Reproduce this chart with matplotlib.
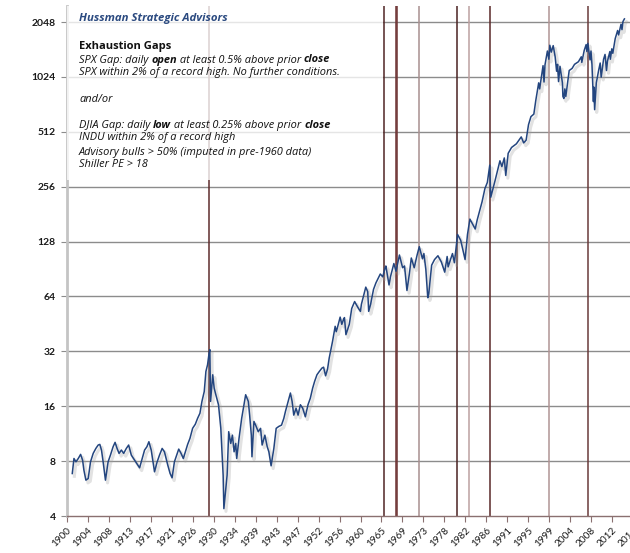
import numpy as np
import matplotlib
matplotlib.use("Agg")
import matplotlib.pyplot as plt
import matplotlib.patheffects as pe
from matplotlib.patches import Rectangle

# S&P 500 (log scale): decimal year, index level
years = [
    1901.3, 1901.65, 1902.06, 1902.54, 1903.02, 1903.43, 1903.70, 1904.11, 1904.59, 1905.07,
    1905.62, 1906.17, 1906.65, 1906.99, 1907.33, 1907.67, 1908.15, 1908.70, 1909.18, 1909.73,
    1910.14, 1910.55, 1910.96, 1911.44, 1911.91, 1912.46, 1912.94, 1913.49, 1914.17, 1915.20,
    1915.75, 1916.23, 1916.71, 1917.12, 1917.60, 1918.28, 1918.83, 1919.31, 1919.86, 1920.33,
    1921.02, 1921.50, 1921.91, 1922.39, 1922.87, 1923.28, 1923.76, 1924.23, 1924.65, 1925.12,
    1925.60, 1926.15, 1926.70, 1927.18, 1927.66, 1928.07, 1928.55, 1928.89, 1929.23, 1929.55,
    1929.70, 1929.85, 1930.30, 1930.60, 1930.94, 1931.49, 1931.97, 1932.17, 1932.45, 1932.60,
    1932.99, 1933.27, 1933.60, 1934.02, 1934.37, 1934.71, 1935.05, 1935.25, 1935.73, 1936.28,
    1936.76, 1937.10, 1937.65, 1937.92, 1938.27, 1938.40, 1938.81, 1939.16, 1939.70, 1940.18,
    1940.50, 1941.07, 1941.55, 1941.89, 1942.35, 1942.92, 1943.40, 1943.95, 1944.50, 1944.97,
    1945.32, 1945.86, 1946.34, 1946.69, 1947.03, 1947.51, 1947.92, 1948.40, 1948.88, 1949.42,
    1949.97, 1950.45, 1950.93, 1951.34, 1951.82, 1952.30, 1952.85, 1953.19, 1953.60, 1954.00,
    1954.35, 1954.76, 1955.04, 1955.58, 1955.80, 1956.13, 1956.61, 1956.95, 1957.30, 1957.50,
    1957.80, 1958.00, 1958.50, 1959.00, 1959.60, 1959.90, 1960.40, 1960.80, 1961.00, 1961.90,
    1962.30, 1962.50, 1962.90, 1963.50, 1964.00, 1964.90, 1965.40, 1965.90, 1966.05, 1966.70,
    1967.00, 1967.70, 1968.15, 1968.85, 1969.50, 1969.90, 1970.40, 1970.90, 1971.30, 1971.90,
    1972.50, 1972.95, 1973.60, 1973.90, 1974.30, 1974.70, 1974.90, 1975.50, 1976.10, 1976.80,
    1977.50, 1978.20, 1978.70, 1978.90, 1979.80, 1980.20, 1980.85, 1981.50, 1982.40, 1982.90,
    1983.40, 1984.50, 1984.90, 1985.90, 1986.50, 1987.00, 1987.50, 1987.70, 1988.50, 1989.60,
    1990.00, 1990.50, 1990.80, 1991.30, 1992.00, 1993.00, 1994.00, 1994.50, 1995.00, 1995.50,
    1996.00, 1996.60, 1997.00, 1997.60, 1997.80, 1998.50, 1998.70, 1998.90, 1999.40, 1999.70,
    1999.90, 2000.20, 2000.60, 2001.00, 2001.30, 2001.50, 2001.70, 2002.00, 2002.50, 2002.60,
    2002.80, 2003.00, 2003.20, 2003.90, 2004.50, 2005.00, 2005.80, 2006.40, 2006.50, 2007.00,
    2007.40, 2007.55, 2007.75, 2008.20, 2008.40, 2008.60, 2008.90, 2009.00, 2009.15, 2009.50,
    2010.00, 2010.30, 2010.50, 2011.00, 2011.30, 2011.60, 2011.80, 2012.30, 2012.40, 2012.70,
    2012.90, 2013.40, 2013.90, 2014.10, 2014.60, 2014.80, 2015.00, 2015.30,
]
sp500 = [
    6.84, 8.27, 7.93, 8.27, 8.71, 8.10, 7.14, 6.29, 6.42, 7.93,
    8.82, 9.39, 9.80, 9.88, 9.20, 7.93, 6.29, 7.93, 8.63, 9.59,
    10.14, 9.39, 8.82, 9.20, 8.82, 9.39, 9.80, 8.63, 8.10, 7.35,
    8.27, 9.20, 9.59, 10.22, 9.20, 6.99, 7.93, 8.63, 9.39, 9.00,
    7.60, 6.84, 6.48, 7.93, 8.63, 9.31, 8.82, 8.27, 9.00, 9.88,
    10.66, 12.11, 12.74, 13.74, 14.64, 16.98, 19.27, 24.8, 27.0, 31.3,
    32.7, 17.0, 23.8, 20.1, 18.5, 16.3, 12.1, 9.39, 6.70, 4.39,
    5.66, 6.70, 11.6, 10.0, 11.1, 9.00, 10.0, 8.27, 10.66, 13.74,
    16.3, 18.5, 17.0, 14.3, 11.1, 8.45, 13.2, 12.6, 11.6, 12.1,
    9.80, 11.1, 9.59, 9.00, 7.54, 9.39, 12.1, 12.4, 12.6, 13.7,
    15.0, 17.0, 18.9, 17.0, 14.3, 15.6, 14.3, 16.3, 15.6, 14.0,
    16.3, 17.7, 20.1, 21.9, 23.8, 24.8, 25.9, 26.2, 23.5, 25.5,
    29.4, 33.4, 36.3, 43.9, 41.0, 44.0, 49.3, 45.0, 47.8, 49.0,
    39.5, 41.0, 45.0, 55.0, 60.0, 58.0, 55.0, 53.0, 58.0, 72.0,
    68.0, 53.0, 58.0, 70.0, 76.0, 85.0, 82.0, 92.0, 94.0, 74.0,
    82.0, 97.0, 88.0, 108.0, 92.0, 94.0, 69.0, 85.0, 104.0, 92.0,
    108.0, 120.0, 103.0, 110.0, 90.0, 63.0, 66.0, 95.0, 102.0, 107.0,
    99.0, 87.0, 106.0, 93.0, 110.0, 98.0, 140.0, 130.0, 102.0, 140.0,
    170.0, 150.0, 168.0, 211.0, 250.0, 270.0, 336.0, 224.0, 270.0, 355.0,
    330.0, 368.0, 295.0, 390.0, 420.0, 440.0, 480.0, 445.0, 460.0, 560.0,
    620.0, 640.0, 760.0, 950.0, 880.0, 1180.0, 960.0, 1190.0, 1420.0, 1280.0,
    1527.0, 1400.0, 1520.0, 1320.0, 1100.0, 1200.0, 965.0, 1170.0, 950.0, 800.0,
    780.0, 880.0, 800.0, 1110.0, 1140.0, 1200.0, 1240.0, 1320.0, 1230.0, 1430.0,
    1540.0, 1410.0, 1565.0, 1270.0, 1420.0, 1200.0, 750.0, 900.0, 677.0, 950.0,
    1120.0, 1220.0, 1020.0, 1280.0, 1360.0, 1110.0, 1250.0, 1410.0, 1280.0, 1460.0,
    1380.0, 1660.0, 1840.0, 1740.0, 1990.0, 1860.0, 2060.0, 2130.0,
]

# exhaustion gap signal dates and line shades
signal_years = [1929.6, 1965.65, 1968.15, 1968.32, 1972.9, 1980.8, 1983.3, 1987.55, 1999.8, 2007.7]
signal_colors = ['#5e2c2c', '#4f2424', '#6e3434', '#6e3434', '#a89090', '#4a2222',
                 '#bca0a0', '#5a2828', '#b09494', '#6a3a3a']

y_ticks = [4, 8, 16, 32, 64, 128, 256, 512, 1024, 2048]
x_labels = ['1900', '1904', '1908', '1913', '1917', '1921', '1926', '1930', '1934', '1939',
            '1943', '1947', '1952', '1956', '1960', '1965', '1969', '1973', '1978', '1982',
            '1986', '1991', '1995', '1999', '2004', '2008', '2012', '2016']

W, H = 630, 553
fig = plt.figure(figsize=(W / 100, H / 100), dpi=100)
x0, x1 = 1900.15, 2016.5
ax = fig.add_axes([66.7 / W, 37 / H, (x1 - x0) * 4.87 / W, 510 / H])
ax.set_yscale('log', base=2)
ax.set_ylim(4, 2507)
ax.set_xlim(x0, x1)

for yv in y_ticks[1:]:
    ax.axhline(yv, color='#8c8c8c', lw=1.0, zorder=1)

for xv, c in zip(signal_years, signal_colors):
    ax.axvline(xv, color=c, lw=1.1, zorder=2)

# faded panel behind the notes
ax.add_patch(Rectangle((0, (553 - 180 - 37) / 510), (383 - 66.7) / ((x1 - x0) * 4.87),
                       1.0, transform=ax.transAxes, facecolor='white', alpha=0.78,
                       edgecolor='none', zorder=3))

ax.plot(years, sp500, color='#23457f', lw=1.1, zorder=4,
        path_effects=[pe.SimpleLineShadow(offset=(1.5, -2), shadow_color='#a0a0a0', alpha=0.3, rho=1, linewidth=2.2),
                      pe.Normal()])

ax.set_yticks(y_ticks)
ax.set_yticklabels([str(v) for v in y_ticks], fontfamily='Lato', fontweight='bold', fontsize=7.5, color='#1a1a1a')
ax.yaxis.set_minor_locator(matplotlib.ticker.NullLocator())
ax.tick_params(axis='y', length=4, width=0.8, color='#8c8c8c', pad=4)

tick_pos = [x0 + 4.333 * k for k in range(len(x_labels))]
ax.set_xticks(tick_pos)
ax.set_xticklabels(x_labels, rotation=45, ha='right', rotation_mode='anchor',
                   fontfamily='Lato', fontsize=7.2, color='#1a1a1a')
ax.tick_params(axis='x', length=4, width=0.8, color='#8a7070', pad=3)

for s in ['top', 'right']:
    ax.spines[s].set_visible(False)
ax.spines['left'].set_color('#c4c4c4')
ax.spines['left'].set_linewidth(2)
ax.spines['bottom'].set_color('#8a7070')
ax.spines['bottom'].set_linewidth(1)


def fy(py):
    return 1 - py / H


tx = 79 / W
FONT = 'Open Sans'
fig.text(tx, fy(19), 'Hussman Strategic Advisors', fontfamily=FONT, fontstyle='italic',
         fontweight='bold', fontsize=8.2, color='#2b4a80', va='center')
fig.text(tx, fy(46), 'Exhaustion Gaps', fontfamily=FONT, fontweight='bold', fontsize=8.0,
         color='#111111', va='center')


def chained(py, parts):
    prev = None
    for txt, bold in parts:
        kw = dict(fontfamily=FONT, fontstyle='italic', fontsize=7.9, color='#111111',
                  fontweight='bold' if bold else 'normal')
        if prev is None:
            prev = fig.text(tx, fy(py), txt, va='center', **kw)
        else:
            prev = ax.annotate(txt, xy=(1, 0), xycoords=prev, va='bottom', ha='left',
                               annotation_clip=False, **kw)


chained(60, [('SPX Gap: daily ', False), ('open', True), (' at least 0.5% above prior ', False), ('close', True)])
chained(73, [('SPX within 2% of a record high. No further conditions.', False)])
chained(99, [('and/or', False)])
chained(125, [('DJIA Gap: daily ', False), ('low', True), (' at least 0.25% above prior ', False), ('close', True)])
chained(138, [('INDU within 2% of a record high', False)])
chained(152, [('Advisory bulls > 50% (imputed in pre-1960 data)', False)])
chained(165, [('Shiller PE > 18', False)])

fig.savefig('out.png', dpi=100)
